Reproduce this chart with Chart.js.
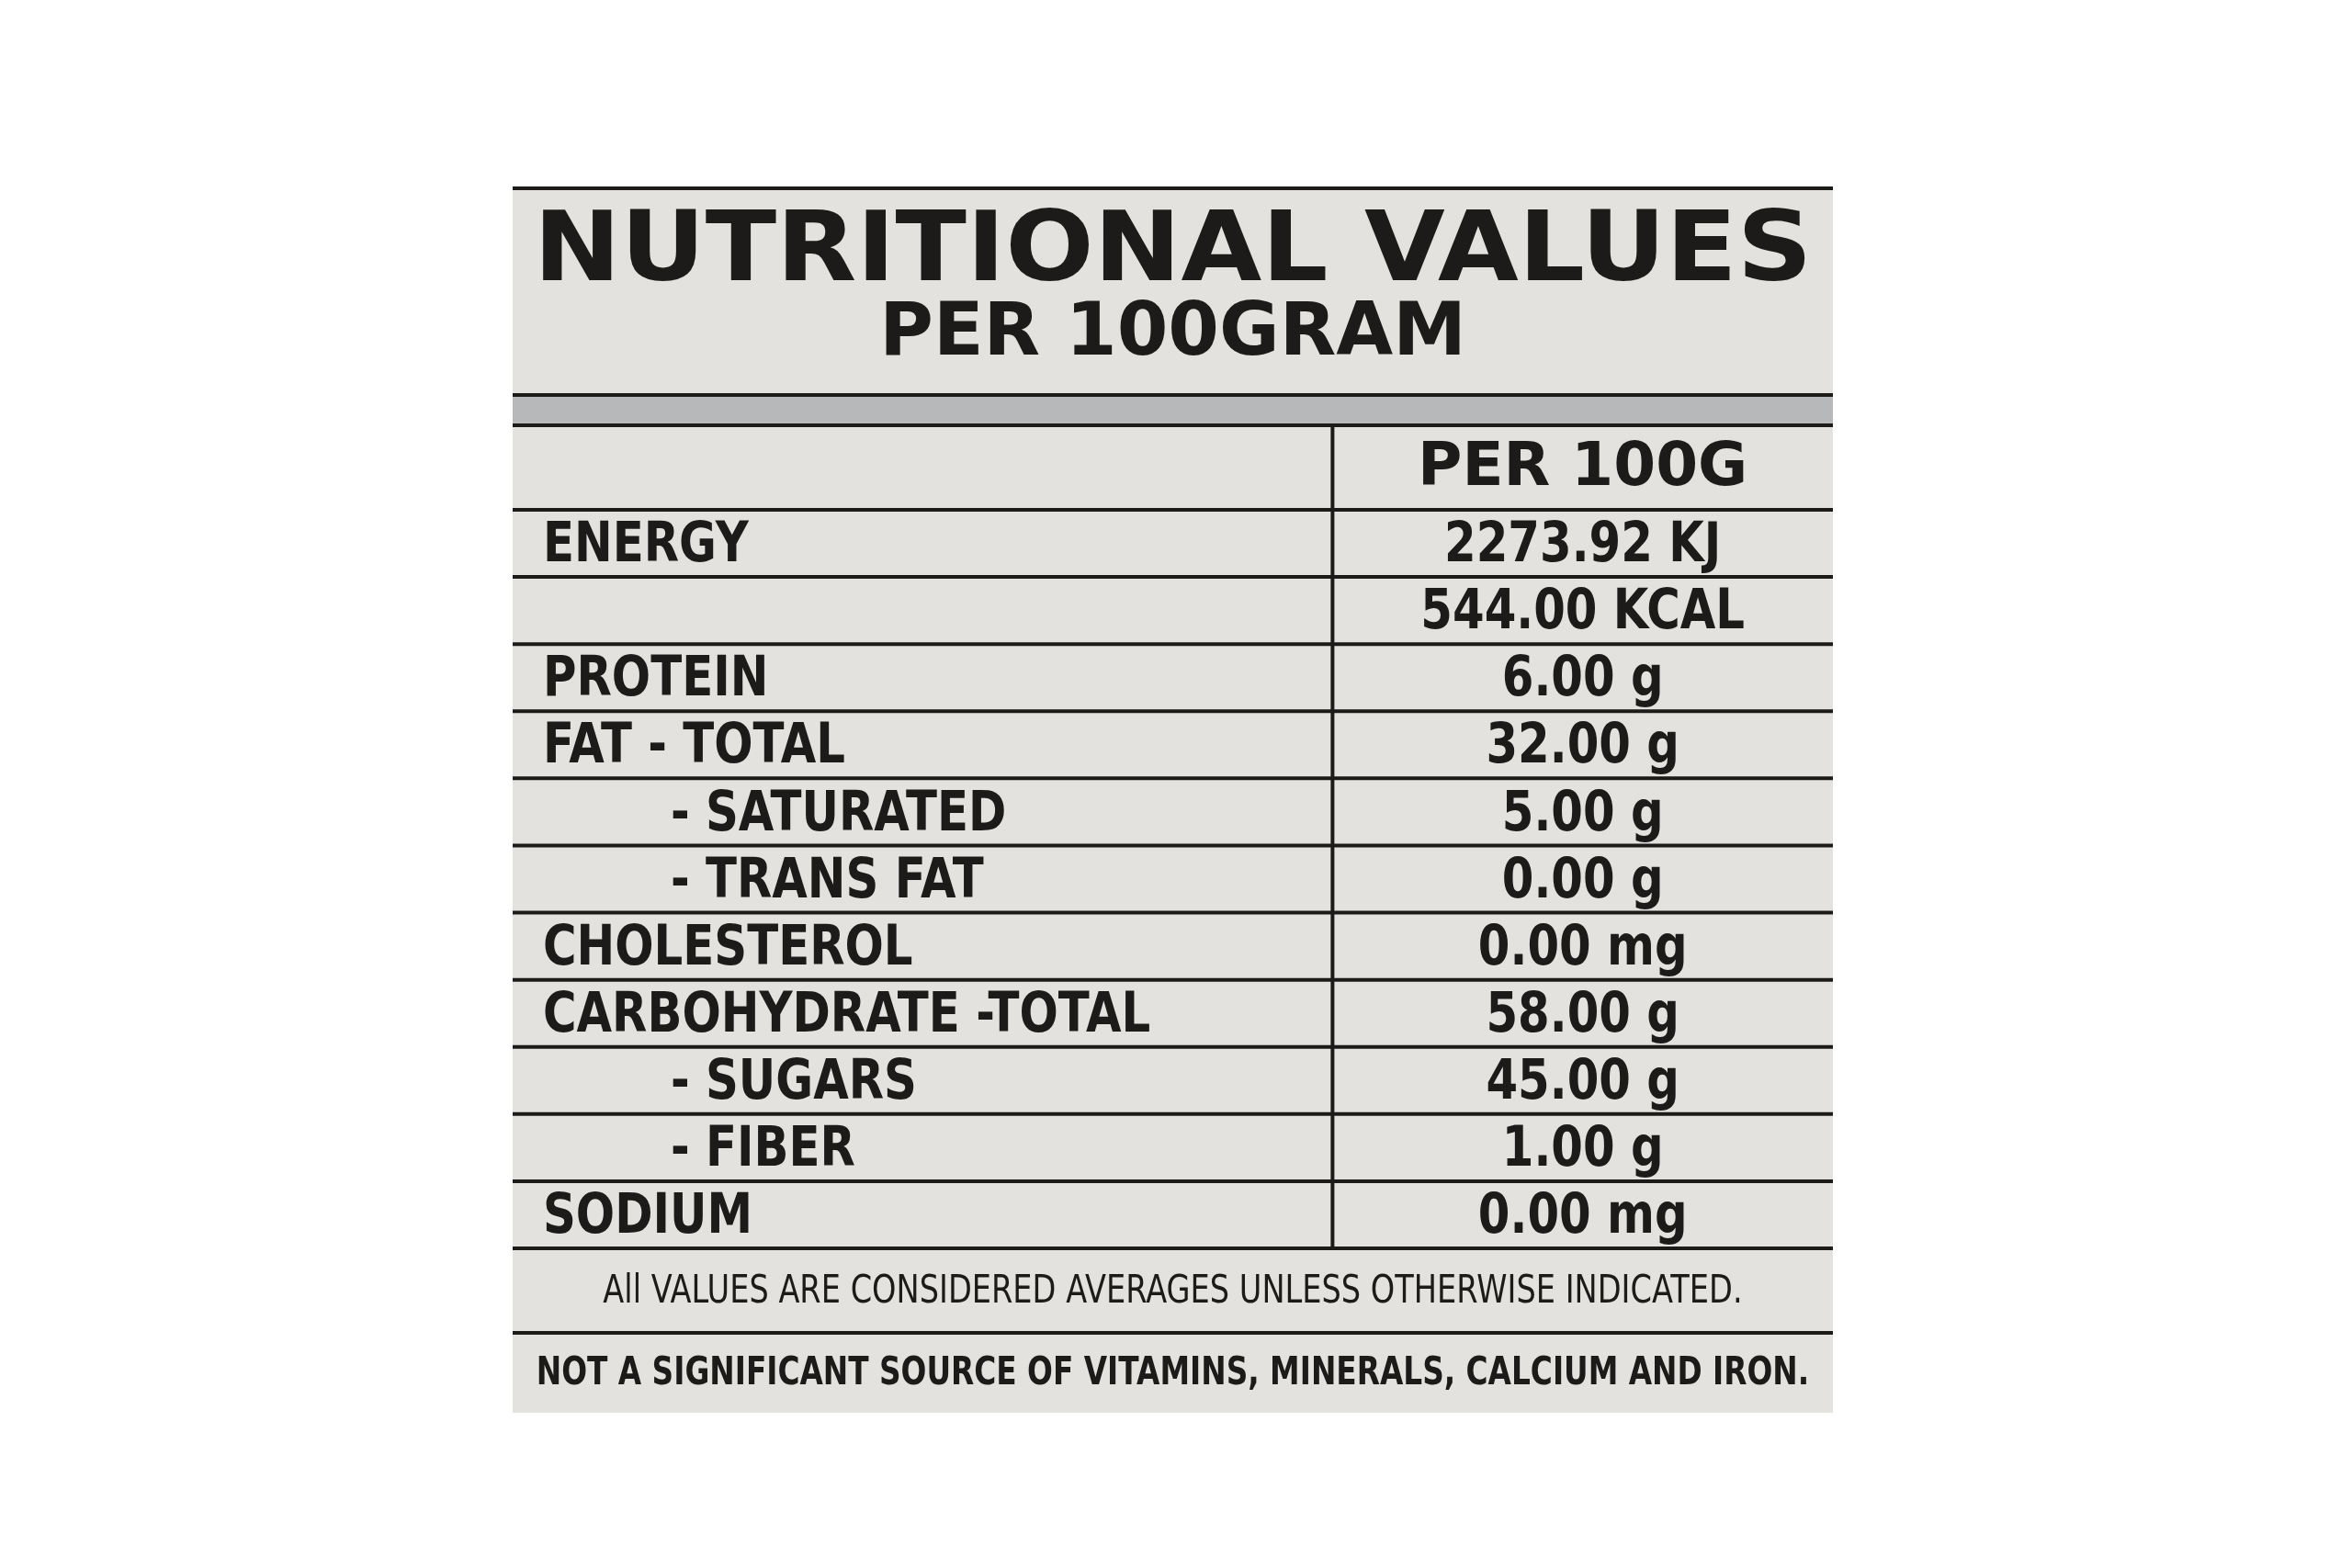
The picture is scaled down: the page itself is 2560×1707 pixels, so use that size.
<!DOCTYPE html>
<html>
<head>
<meta charset="utf-8">
<script src="https://cdn.jsdelivr.net/npm/chart.js@4"></script>
<style>
  html, body { margin: 0; background: #fff; }
  #wrap { width: 2560px; height: 1707px; }
</style>
</head>
<body>
<div id="wrap"><canvas id="label"></canvas></div>
<script>
// -------------------------
// Label data
// -------------------------
const title = "NUTRITIONAL VALUES";
const subtitle = "PER 100GRAM";
const columnHeader = "PER 100G";
const nutrients = ["ENERGY", "", "PROTEIN", "FAT - TOTAL", "- SATURATED", "- TRANS FAT",
  "CHOLESTEROL", "CARBOHYDRATE -TOTAL", "- SUGARS", "- FIBER", "SODIUM"];
const indented = [false, false, false, false, true, true, false, false, true, true, false];
const amounts = ["2273.92 KJ", "544.00 KCAL", "6.00 g", "32.00 g", "5.00 g", "0.00 g",
  "0.00 mg", "58.00 g", "45.00 g", "1.00 g", "0.00 mg"];
const footnotes = ["All VALUES ARE CONSIDERED AVERAGES UNLESS OTHERWISE INDICATED.",
  "NOT A SIGNIFICANT SOURCE OF VITAMINS, MINERALS, CALCIUM AND IRON."];

const rowLabels = nutrients.map((n, i) => "row" + i);
const DIVIDER = 0.621; // column split, in x-scale units

const INK = "#1d1b1a";
const CARD = "#e3e2de";
const FONT = '"DejaVu Sans", sans-serif';

// draw text squeezed horizontally, like the narrow print on the label
function condensed(ctx, text, x, y, align, factor) {
  ctx.save();
  ctx.translate(x, y);
  ctx.scale(factor, 1);
  ctx.textAlign = align;
  ctx.fillText(text, 0, 0);
  ctx.restore();
}

// -------------------------
// Plugin: draw card, lines and text from the scales
// -------------------------
const labelPlugin = {
  id: "labelPlugin",
  beforeDraw(chart) {
    const { ctx, chartArea: a } = chart;
    const top = a.top - 350, bottom = a.bottom + 179;
    ctx.save();
    ctx.fillStyle = CARD;
    ctx.fillRect(a.left, top, a.right - a.left, bottom - top);
    ctx.fillStyle = "#b7b8b9";
    ctx.fillRect(a.left, a.top - 125, a.right - a.left, 33);
    ctx.restore();
  },
  afterDraw(chart) {
    const { ctx, chartArea: a, scales: { x, y } } = chart;
    const rowH = Math.abs(y.getPixelForValue(1) - y.getPixelForValue(0));
    const top = a.top - 350;
    const xDiv = x.getPixelForValue(DIVIDER);
    const midVal = (x.getPixelForValue(DIVIDER) + x.getPixelForValue(1)) / 2;
    const cx = (a.left + a.right) / 2;
    ctx.save();
    ctx.strokeStyle = INK;
    ctx.lineWidth = 4;
    ctx.beginPath();
    ctx.moveTo(a.left, top); ctx.lineTo(a.right, top);
    ctx.moveTo(a.left, a.top - 125); ctx.lineTo(a.right, a.top - 125);
    ctx.moveTo(a.left, a.top - 92); ctx.lineTo(a.right, a.top - 92);
    ctx.moveTo(a.left, a.top); ctx.lineTo(a.right, a.top);
    rowLabels.forEach((_, i) => {
      const yy = y.getPixelForValue(i) + rowH / 2;
      ctx.moveTo(a.left, yy); ctx.lineTo(a.right, yy);
    });
    const footLine = a.bottom + 92;
    ctx.moveTo(a.left, footLine); ctx.lineTo(a.right, footLine);
    ctx.moveTo(xDiv, a.top - 92); ctx.lineTo(xDiv, a.bottom);
    ctx.stroke();

    ctx.fillStyle = INK;
    ctx.textBaseline = "middle";
    // title
    ctx.font = "bold 106px " + FONT;
    condensed(ctx, title, cx, top + 72, "center", 1.07);
    ctx.font = "bold 80px " + FONT;
    condensed(ctx, subtitle, cx, top + 160, "center", 1.0);

    // column header
    ctx.font = "bold 66px " + FONT;
    condensed(ctx, columnHeader, midVal, a.top - 44, "center", 1.0);

    // rows
    ctx.font = "bold 60px " + FONT;
    nutrients.forEach((n, i) => {
      const yy = y.getPixelForValue(i) + 4;
      condensed(ctx, n, a.left + (indented[i] ? 172 : 33), yy, "left", 0.83);
      condensed(ctx, amounts[i], midVal, yy, "center", 0.83);
    });

    // footnotes
    ctx.font = "42px " + FONT;
    condensed(ctx, footnotes[0], cx, a.bottom + 48, "center", 0.8);
    ctx.font = "bold 42px " + FONT;
    condensed(ctx, footnotes[1], cx, a.bottom + 137, "center", 0.78);
    ctx.restore();
  }
};

// -------------------------
// Chart.js setup
// -------------------------
new Chart(document.getElementById("label"), {
  type: "scatter",
  data: { labels: rowLabels, datasets: [{ data: [], pointRadius: 0 }] },
  options: {
    responsive: true,
    maintainAspectRatio: false,
    animation: false,
    layout: { padding: { left: 558, right: 565, top: 555, bottom: 348 } },
    plugins: { legend: { display: false }, tooltip: { enabled: false } },
    scales: {
      x: { type: "linear", min: 0, max: 1, display: false },
      y: { type: "category", labels: rowLabels, offset: true, display: false }
    }
  },
  plugins: [labelPlugin]
});
</script>
</body>
</html>
